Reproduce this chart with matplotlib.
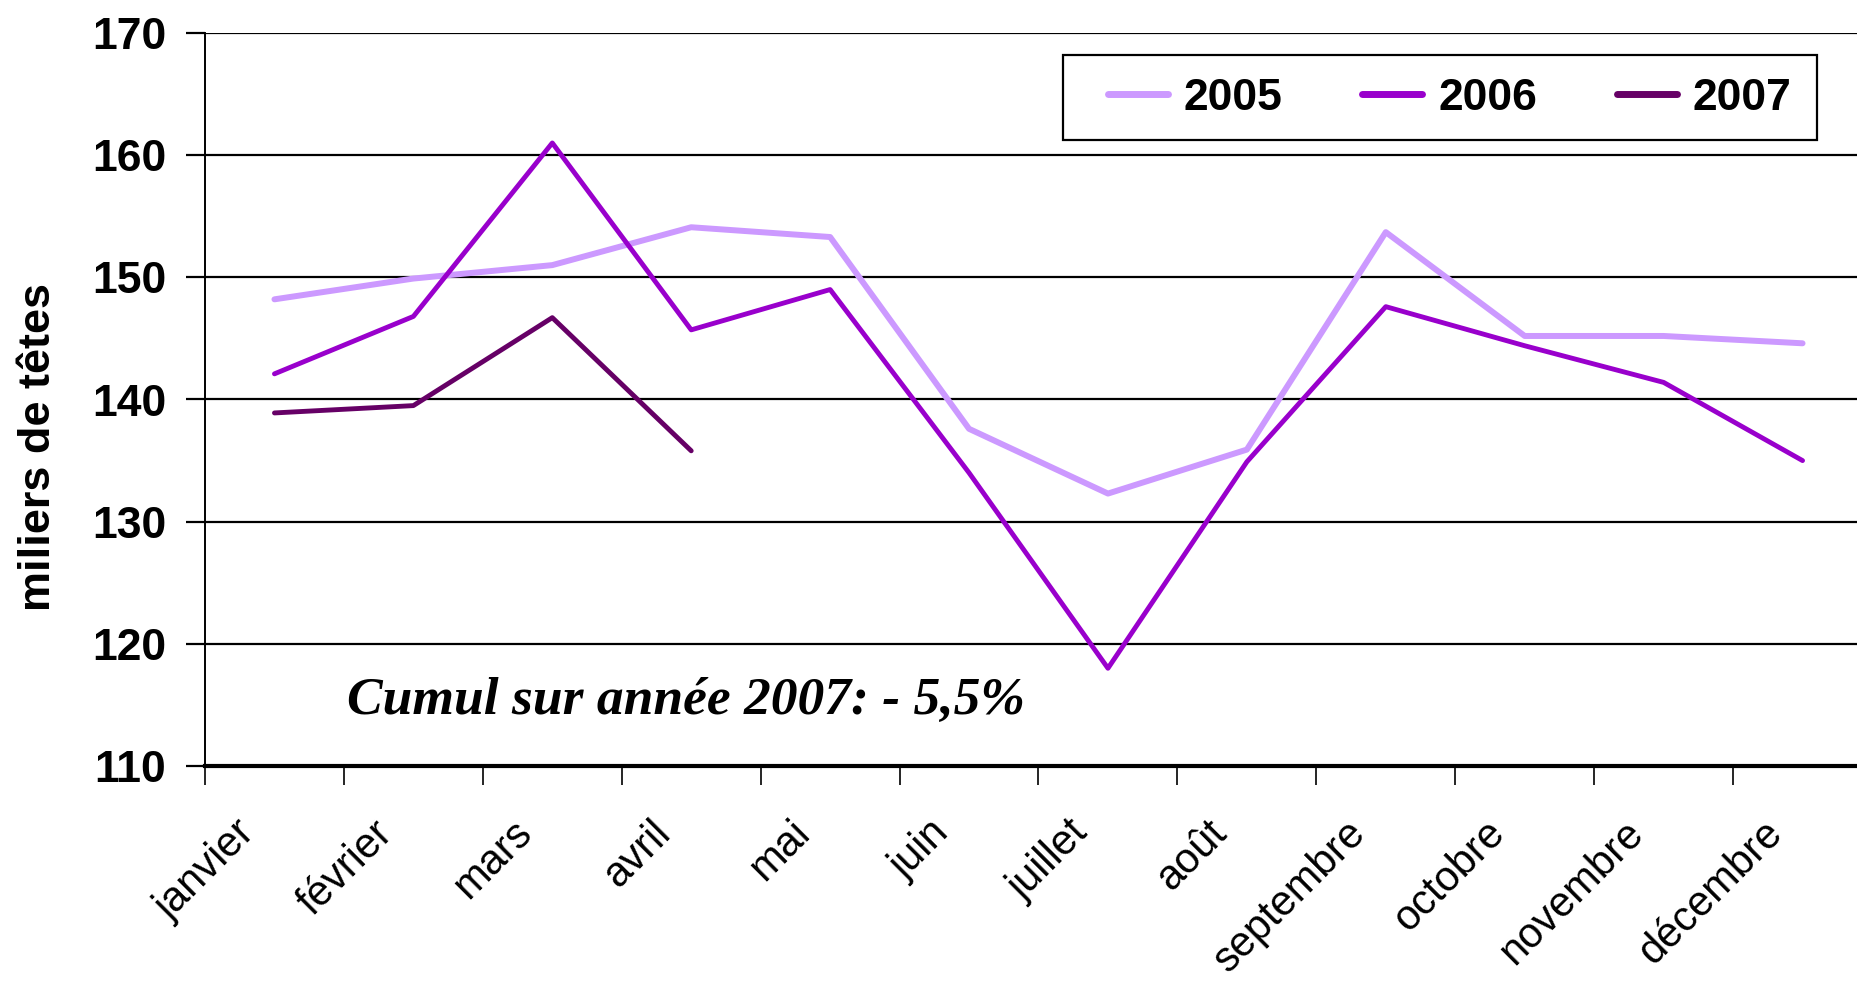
import numpy as np
import matplotlib
matplotlib.use("Agg")
import matplotlib.pyplot as plt
from matplotlib.patches import Rectangle

# monthly values (milliers de têtes)
mois = ["janvier", "février", "mars", "avril", "mai", "juin", "juillet",
        "août", "septembre", "octobre", "novembre", "décembre"]
v2005 = [148.2, 149.9, 151.0, 154.1, 153.3, 137.6, 132.3, 135.9, 153.7, 145.2, 145.2, 144.6]
v2006 = [142.1, 146.8, 161.0, 145.7, 149.0, 134.0, 118.0, 134.9, 147.6, 144.4, 141.4, 135.0]
v2007 = [138.9, 139.5, 146.7, 135.8]

plt.rcParams['font.family'] = ['Liberation Sans', 'DejaVu Sans']

fig = plt.figure(figsize=(18.58, 9.82), dpi=100)
ax = fig.add_axes([205 / 1858, 1 - 766 / 982, 1667 / 1858, 733 / 982])

x = np.arange(len(mois))
ax.plot(x, v2005, color='#CC99FF', lw=4.3, label='2005', solid_capstyle='round')
ax.plot(x, v2006, color='#9900CC', lw=3.5, label='2006', solid_capstyle='round')
ax.plot(x[:len(v2007)], v2007, color='#660066', lw=3.5, label='2007', solid_capstyle='round')

ax.set_xlim(-0.5, 11.5)
ax.set_ylim(110, 170)
ax.set_yticks(np.arange(110, 171, 10))
ax.yaxis.grid(True, color='black', lw=1.6)
ax.set_axisbelow(True)

# category boundaries carry the ticks, labels sit a little left of the centres
ax.set_xticks(np.arange(-0.5, 12, 1))
ax.set_xticklabels([])
ax.set_xticks(x - 0.19, minor=True)
ax.set_xticklabels(mois, minor=True, rotation=45, ha='right', va='center',
                   rotation_mode='anchor', fontsize=30)
ax.tick_params(axis='x', which='major', length=14, width=1.2, direction='out')
ax.tick_params(axis='x', which='minor', length=0, pad=44)
ax.tick_params(axis='y', length=14, width=1.6, pad=14, labelsize=32)
for lbl in ax.get_yticklabels():
    lbl.set_fontweight('bold')

for s in ['top', 'right']:
    ax.spines[s].set_visible(False)
ax.spines['left'].set_linewidth(1.4)
ax.spines['bottom'].set_linewidth(3)

fig.text(39 / 1858, 1 - 447 / 982, 'miliers de têtes', rotation=90, ha='center',
         va='center', fontsize=32.5, fontweight='bold')

ax.text(0.085, 115.3, 'Cumul sur année 2007: - 5,5%', transform=ax.get_yaxis_transform(),
        fontsize=38.5, fontstyle='italic', fontweight='bold', va='center', ha='left',
        family=['Liberation Serif', 'DejaVu Serif'])

# legend box drawn separately: wider side margins than matplotlib's borderpad
box = Rectangle((0.5147, 0.854), 0.4523, 0.116, transform=ax.transAxes,
                facecolor='white', edgecolor='black', lw=1.6, zorder=4)
ax.add_patch(box)
leg = ax.legend(loc='center left', bbox_to_anchor=(0.5417, 0.911), ncol=3,
                prop={'size': 32, 'weight': 'bold'}, frameon=False,
                handlelength=1.35, handletextpad=0.35, columnspacing=1.8,
                borderpad=0, borderaxespad=0)
leg.set_zorder(5)
for h in leg.get_lines():
    h.set_linewidth(5)

fig.savefig('out.png', dpi=100)
